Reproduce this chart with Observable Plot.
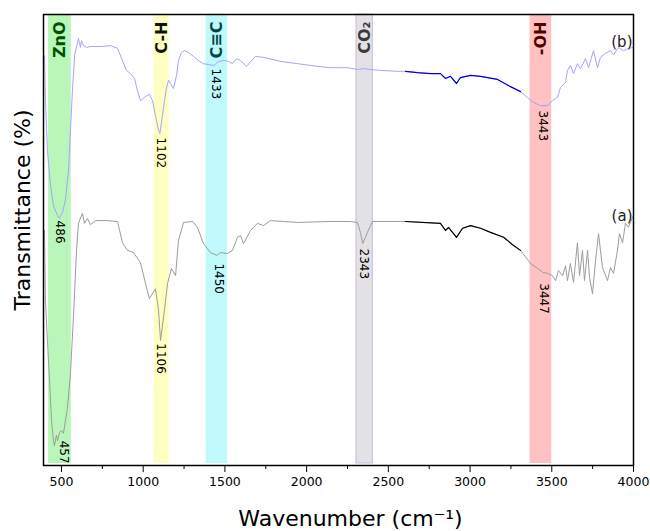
<!DOCTYPE html>
<html><head><meta charset="utf-8">
<script src="https://cdn.jsdelivr.net/npm/d3@7"></script>
<script src="https://cdn.jsdelivr.net/npm/@observablehq/plot@0.6"></script>
<style>body{margin:0;background:#fff;} #chart svg{display:block;}</style>
</head><body><div id="chart"></div>
<script>
// Spectrum (b) – wavenumber (cm-1) and transmittance
const wnB = [396,402,414,433,451,476,486,506,524,543,
  555,567,580,604,616,622,635,653,677,739,
  800,843,873,898,922,947,965,983,1014,1038,
  1057,1075,1094,1102,1118,1130,1142,1155,1167,1185,
  1204,1216,1234,1253,1277,1308,1338,1369,1399,1433,
  1461,1497,1522,1546,1571,1595,1632,1687,1736,1840,
  1944,2066,2146,2250,2311,2348,2391,2452,2556,2605,
  2678,2758,2819,2850,2880,2917,2941,3003,3064,3168,
  3247,3309,3351,3388,3431,3474,3504,3535,3553,3584,
  3596,3614,3633,3657,3676,3706,3725,3755,3780,3798,
  3829,3859,3878,3908,3939,3969,4000];
const tB = [90.9,80.9,69.8,62.1,57.6,55.4,54.8,56.1,58.8,65.4,
  74.3,83.1,90.9,94.7,92.7,94.2,93.1,92.7,92.9,92.9,
  93.1,92.5,89.8,87.6,86.9,85.8,83.1,80.9,81.8,82.3,
  80.9,77.6,74.3,73.6,77.6,80.9,83.6,85.4,84.7,83.6,
  86.5,89.8,91.6,92.0,91.6,90.7,89.8,89.1,88.9,88.7,
  89.6,89.8,89.6,89.1,90.2,89.8,88.5,90.7,90.5,89.6,
  89.1,88.5,88.2,88.2,87.8,88.0,87.8,87.6,87.4,87.4,
  87.1,86.9,86.9,85.8,86.3,84.7,86.0,86.5,86.3,85.6,
  84.0,82.9,81.6,80.5,79.8,79.8,80.9,81.6,83.8,84.9,
  87.6,88.7,86.9,89.1,88.0,90.2,88.2,92.0,88.2,90.5,
  91.4,92.0,91.1,92.7,92.0,92.5,92.7];

// Spectrum (a)
const wnA = [396,402,414,427,439,451,457,469,476,488,
  500,512,537,555,573,592,604,628,641,659,
  677,708,781,843,873,904,941,983,1014,1038,
  1075,1094,1106,1130,1149,1173,1198,1216,1247,1302,
  1332,1369,1412,1450,1473,1516,1546,1577,1595,1614,
  1657,1699,1736,1779,1858,1944,2146,2268,2311,2329,
  2343,2360,2372,2403,2556,2605,2819,2850,2868,2917,
  2954,3003,3064,3125,3205,3266,3309,3370,3413,3447,
  3474,3504,3523,3541,3566,3584,3596,3614,3633,3657,
  3670,3688,3700,3719,3731,3749,3768,3786,3810,3841,
  3859,3878,3902,3914,3933,3951,3969,3994,4000];
const tA = [52.1,36.6,27.7,18.8,10.0,5.5,4.4,6.7,5.5,7.3,
  7.8,7.1,12.9,20.4,32.8,47.7,53.7,55.9,53.7,54.8,
  53.4,54.3,54.3,54.1,49.4,47.7,47.2,45.0,40.4,37.0,
  39.2,34.4,27.7,34.4,40.4,43.7,42.1,49.9,53.9,54.1,
  52.8,49.2,47.2,46.6,47.2,47.0,47.7,50.6,51.0,49.2,
  52.1,53.7,53.2,54.3,54.1,53.9,54.1,54.1,53.9,51.7,
  49.2,50.6,51.7,54.1,54.1,54.1,53.7,52.1,52.8,50.6,
  52.6,53.2,52.6,51.7,50.6,48.8,47.7,44.8,43.7,42.8,
  42.6,42.1,41.0,43.2,42.1,44.3,41.0,44.8,40.6,49.4,
  42.1,47.7,41.0,47.7,41.7,38.1,45.5,51.4,43.9,41.0,
  43.9,42.6,47.7,51.4,49.4,53.7,52.8,55.0,55.4];

// Assignment bands
const bandName = ["ZnO", "C-H", "C≡C", "CO₂", "-OH"];
const bandFrom = [420, 1068, 1385, 2305, 3367];
const bandTo   = [560, 1160, 1515, 2405, 3500];

// Peak labels
const peakText = ["486", "1102", "1433", "3443", "457", "1106", "1450", "2343", "3447"];
const peakWn   = [488, 1106, 1442, 3443, 512, 1106, 1461, 2348, 3449];
const peakT    = [54.3, 72.7, 88.0, 78.7, 5.5, 27.1, 44.8, 48.1, 40.4];

// Series labels
const seriesName = ["(b)", "(a)"];
const seriesWn = [4000, 4000];
const seriesT = [93.8, 55.3];

// Axis ticks
const xTicks = [500, 1000, 1500, 2000, 2500, 3000, 3500, 4000];
const xMinor = [750, 1250, 1750, 2250, 2750, 3250, 3750];

// styles
const bandFill = ["#b9f6b9", "#ffffc2", "#bff9fb", "#e2e2e4", "#ffc1c1"];
const bandInk  = ["#005200", "#111111", "#004747", "#3a3a3a", "#520000"];

const specA = wnA.map((w, i) => ({wn: w, t: tA[i]}));
const specB = wnB.map((w, i) => ({wn: w, t: tB[i]}));
const bands = bandName.map((n, i) => ({name: n, from: bandFrom[i], to: bandTo[i], i}));
const peaks = peakText.map((s, i) => ({label: s, wn: peakWn[i], t: peakT[i]}));
const series = seriesName.map((s, i) => ({name: s, wn: seriesWn[i], t: seriesT[i]}));
const dark = d => d.wn >= 2605 && d.wn <= 3309;

const plot = Plot.plot({
  width: 650, height: 531,
  marginLeft: 43, marginRight: 17, marginTop: 14, marginBottom: 66,
  style: {fontFamily: "DejaVu Sans", fontSize: "12px", background: "white", color: "black"},
  x: {domain: [390, 4000]},
  y: {domain: [0, 100], axis: null},
  marks: [
    ...bands.map(b => Plot.rect([b], {x1: "from", x2: "to", fill: bandFill[b.i], insetBottom: 2})),
    Plot.rect(bands.filter(b => b.name === "CO₂"), {x1: "from", x2: "to", stroke: "#cdb9df", strokeWidth: 1, insetBottom: 2}),
    Plot.line(specB, {x: "wn", y: "t", stroke: "#a3a3ff", strokeWidth: 1}),
    Plot.line(specB.filter(dark), {x: "wn", y: "t", stroke: "#0000dd", strokeWidth: 1.2}),
    Plot.line(specA, {x: "wn", y: "t", stroke: "#9c9c9c", strokeWidth: 1}),
    Plot.line(specA.filter(dark), {x: "wn", y: "t", stroke: "#000000", strokeWidth: 1.2}),
    ...bands.map(b => Plot.text([b], {x: d => (d.from + d.to) / 2, frameAnchor: "top", text: "name",
      rotate: -90, textAnchor: "end", lineAnchor: "middle", dy: 7, fontSize: 16, fontWeight: "bold", fill: bandInk[b.i]})),
    Plot.text(peaks, {x: "wn", y: "t", text: "label", rotate: 90, textAnchor: "start", lineAnchor: "middle", fontSize: 12, fill: "black"}),
    Plot.text(series, {x: "wn", y: "t", text: "name", textAnchor: "end", dx: -1, fontSize: 15, fill: "#222"}),
    Plot.axisX(xTicks, {tickSize: 7, tickPadding: 5, fontSize: 12.5, label: null, tickFormat: d => String(d)}),
    Plot.axisX(xMinor, {tickSize: 4, tickFormat: () => "", label: null}),
    Plot.frame({stroke: "black", strokeWidth: 1.5}),
    Plot.text(["Wavenumber (cm⁻¹)"], {text: d => d, frameAnchor: "bottom", dy: 53, dx: 12, fontSize: 22, lineAnchor: "middle"}),
    Plot.text(["Transmittance (%)"], {text: d => d, frameAnchor: "left", rotate: -90, textAnchor: "middle", dx: -21, dy: -30, fontSize: 22, lineAnchor: "middle"})
  ]
});
document.getElementById("chart").appendChild(plot);
</script>
</body></html>
